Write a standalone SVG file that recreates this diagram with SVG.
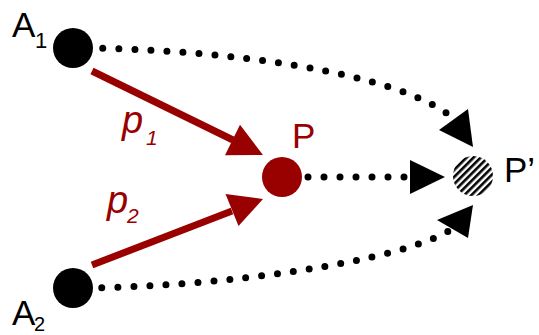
<svg xmlns="http://www.w3.org/2000/svg" width="539" height="335" viewBox="0 0 539 335">
<style>
.lbl{font-family:"Liberation Sans",Arial,sans-serif;}
.dot{fill:none;stroke:#000;stroke-width:7;stroke-linecap:round;stroke-dasharray:0 16;}
.red{fill:none;stroke:#990000;stroke-width:7;}
.redhead{fill:#990000;}
.head{fill:#000;}
</style>
<defs>
<pattern id="hatch" patternUnits="userSpaceOnUse" width="5" height="5" patternTransform="rotate(45)">
<rect width="5" height="5" fill="#fff"/>
<rect width="2.6" height="5" fill="#000"/>
</pattern>
</defs>
<rect width="539" height="335" fill="#fff"/>
<g id="connectors">
<path class="dot" d="M71,48 C220,48 400,72 454,119"/>
<path class="dot" d="M70,288 C220,288 400,262 452,229"/>
<path class="dot" d="M292,177 L410,177"/>
<polygon class="head" points="473,147 468,109 439,130"/>
<polygon class="head" points="445,177 410,160 410,194"/>
<polygon class="head" points="473,205 437,220 468,238"/>
<path class="red" d="M92,71 L233,140"/>
<polygon class="redhead" points="263,155 240,124.7 225,155.3"/>
<path class="red" d="M92,265 L232,211"/>
<polygon class="redhead" points="263,199 225.5,194 238.5,226"/>
<text class="lbl" x="122" y="133" font-size="38" font-style="italic" fill="#990000">p</text>
<text class="lbl" x="146" y="145" font-size="21" font-style="italic" fill="#990000">1</text>
<text class="lbl" x="107" y="213" font-size="38" font-style="italic" fill="#990000">p</text>
<text class="lbl" x="127" y="223" font-size="21" font-style="italic" fill="#990000">2</text>
</g>
<g id="A1">
<circle cx="73" cy="48" r="20" fill="#000"/>
<text class="lbl" x="12" y="37" font-size="35" fill="#000">A</text>
<text class="lbl" x="35" y="48" font-size="22" fill="#000">1</text>
</g>
<g id="A2">
<circle cx="73" cy="288" r="20" fill="#000"/>
<text class="lbl" x="12" y="325" font-size="35" fill="#000">A</text>
<text class="lbl" x="34" y="331" font-size="20" fill="#000">2</text>
</g>
<g id="P">
<circle cx="282" cy="177" r="20" fill="#990000"/>
<text class="lbl" x="292" y="148" font-size="35" fill="#990000">P</text>
</g>
<g id="Pprime">
<circle cx="473" cy="176" r="20" fill="url(#hatch)"/>
<text class="lbl" x="504" y="182" font-size="35" fill="#000">P’</text>
</g>
</svg>
